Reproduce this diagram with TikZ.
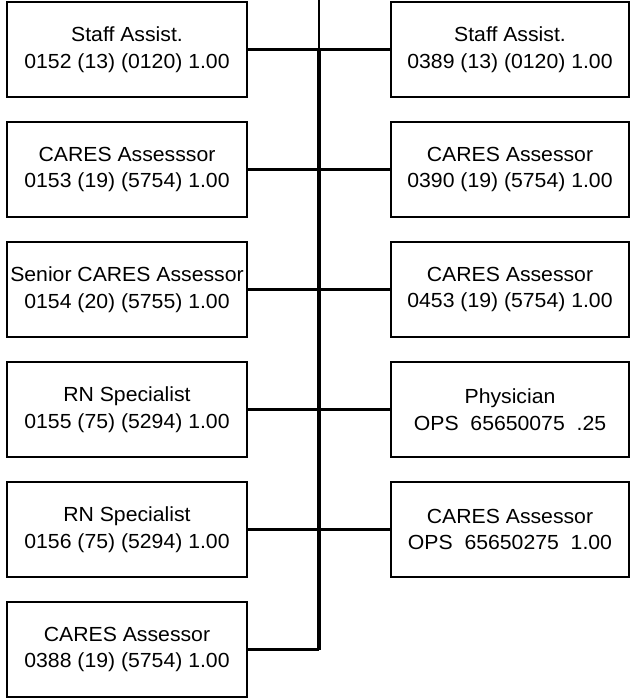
\documentclass[tikz,border=0pt]{standalone}
\usepackage{fontspec}
\setmainfont[FakeStretch=1.04]{Liberation Sans}
\begin{document}
\begin{tikzpicture}[x=1pt,y=-1pt,
  orgbox/.style={draw, line width=2.4pt, minimum width=240pt, minimum height=95pt,
    inner sep=0pt, align=center, font=\fontsize{20.4}{26.5}\selectfont},
  rbox/.style={orgbox, minimum width=238pt},
  link/.style={line width=2.4pt},
  spine/.style={line width=3.4pt}]
\useasboundingbox (0,0) rectangle (632,700);
\coordinate (top) at (319,0);
% left column
\node[orgbox] (l1) at (127,49.5) {Staff Assist.\\0152 (13) (0120) 1.00};
\node[orgbox] (l2) at (127,169.5) {CARES Assesssor\\0153 (19) (5754) 1.00};
\node[orgbox] (l3) at (127,289.5) {Senior CARES Assessor\\0154 (20) (5755) 1.00};
\node[orgbox] (l4) at (127,409.5) {RN Specialist\\0155 (75) (5294) 1.00};
\node[orgbox] (l5) at (127,529.5) {RN Specialist\\0156 (75) (5294) 1.00};
\node[orgbox] (l6) at (127,649.5) {CARES Assessor\\0388 (19) (5754) 1.00};
% right column
\node[rbox] (r1) at (510,49.5) {Staff Assist.\\0389 (13) (0120) 1.00};
\node[rbox] (r2) at (510,169.5) {CARES Assessor\\0390 (19) (5754) 1.00};
\node[rbox] (r3) at (510,289.5) {CARES Assessor\\0453 (19) (5754) 1.00};
\node[rbox] (r4) at (510,409.5) {Physician\\OPS\ \ 65650075\ \ .25};
\node[rbox] (r5) at (510,529.5) {CARES Assessor\\OPS\ \ 65650275\ \ 1.00};
% spine
\draw[link] (top) -- (l1.east -| top);
\draw[spine] (l1.east -| top) -- (l6.east -| top);
% connectors
\foreach \n in {l1,l2,l3,l4,l5,l6,r1,r2,r3,r4,r5}
  \draw[link] (\n) -- (\n -| top);
\end{tikzpicture}
\end{document}
